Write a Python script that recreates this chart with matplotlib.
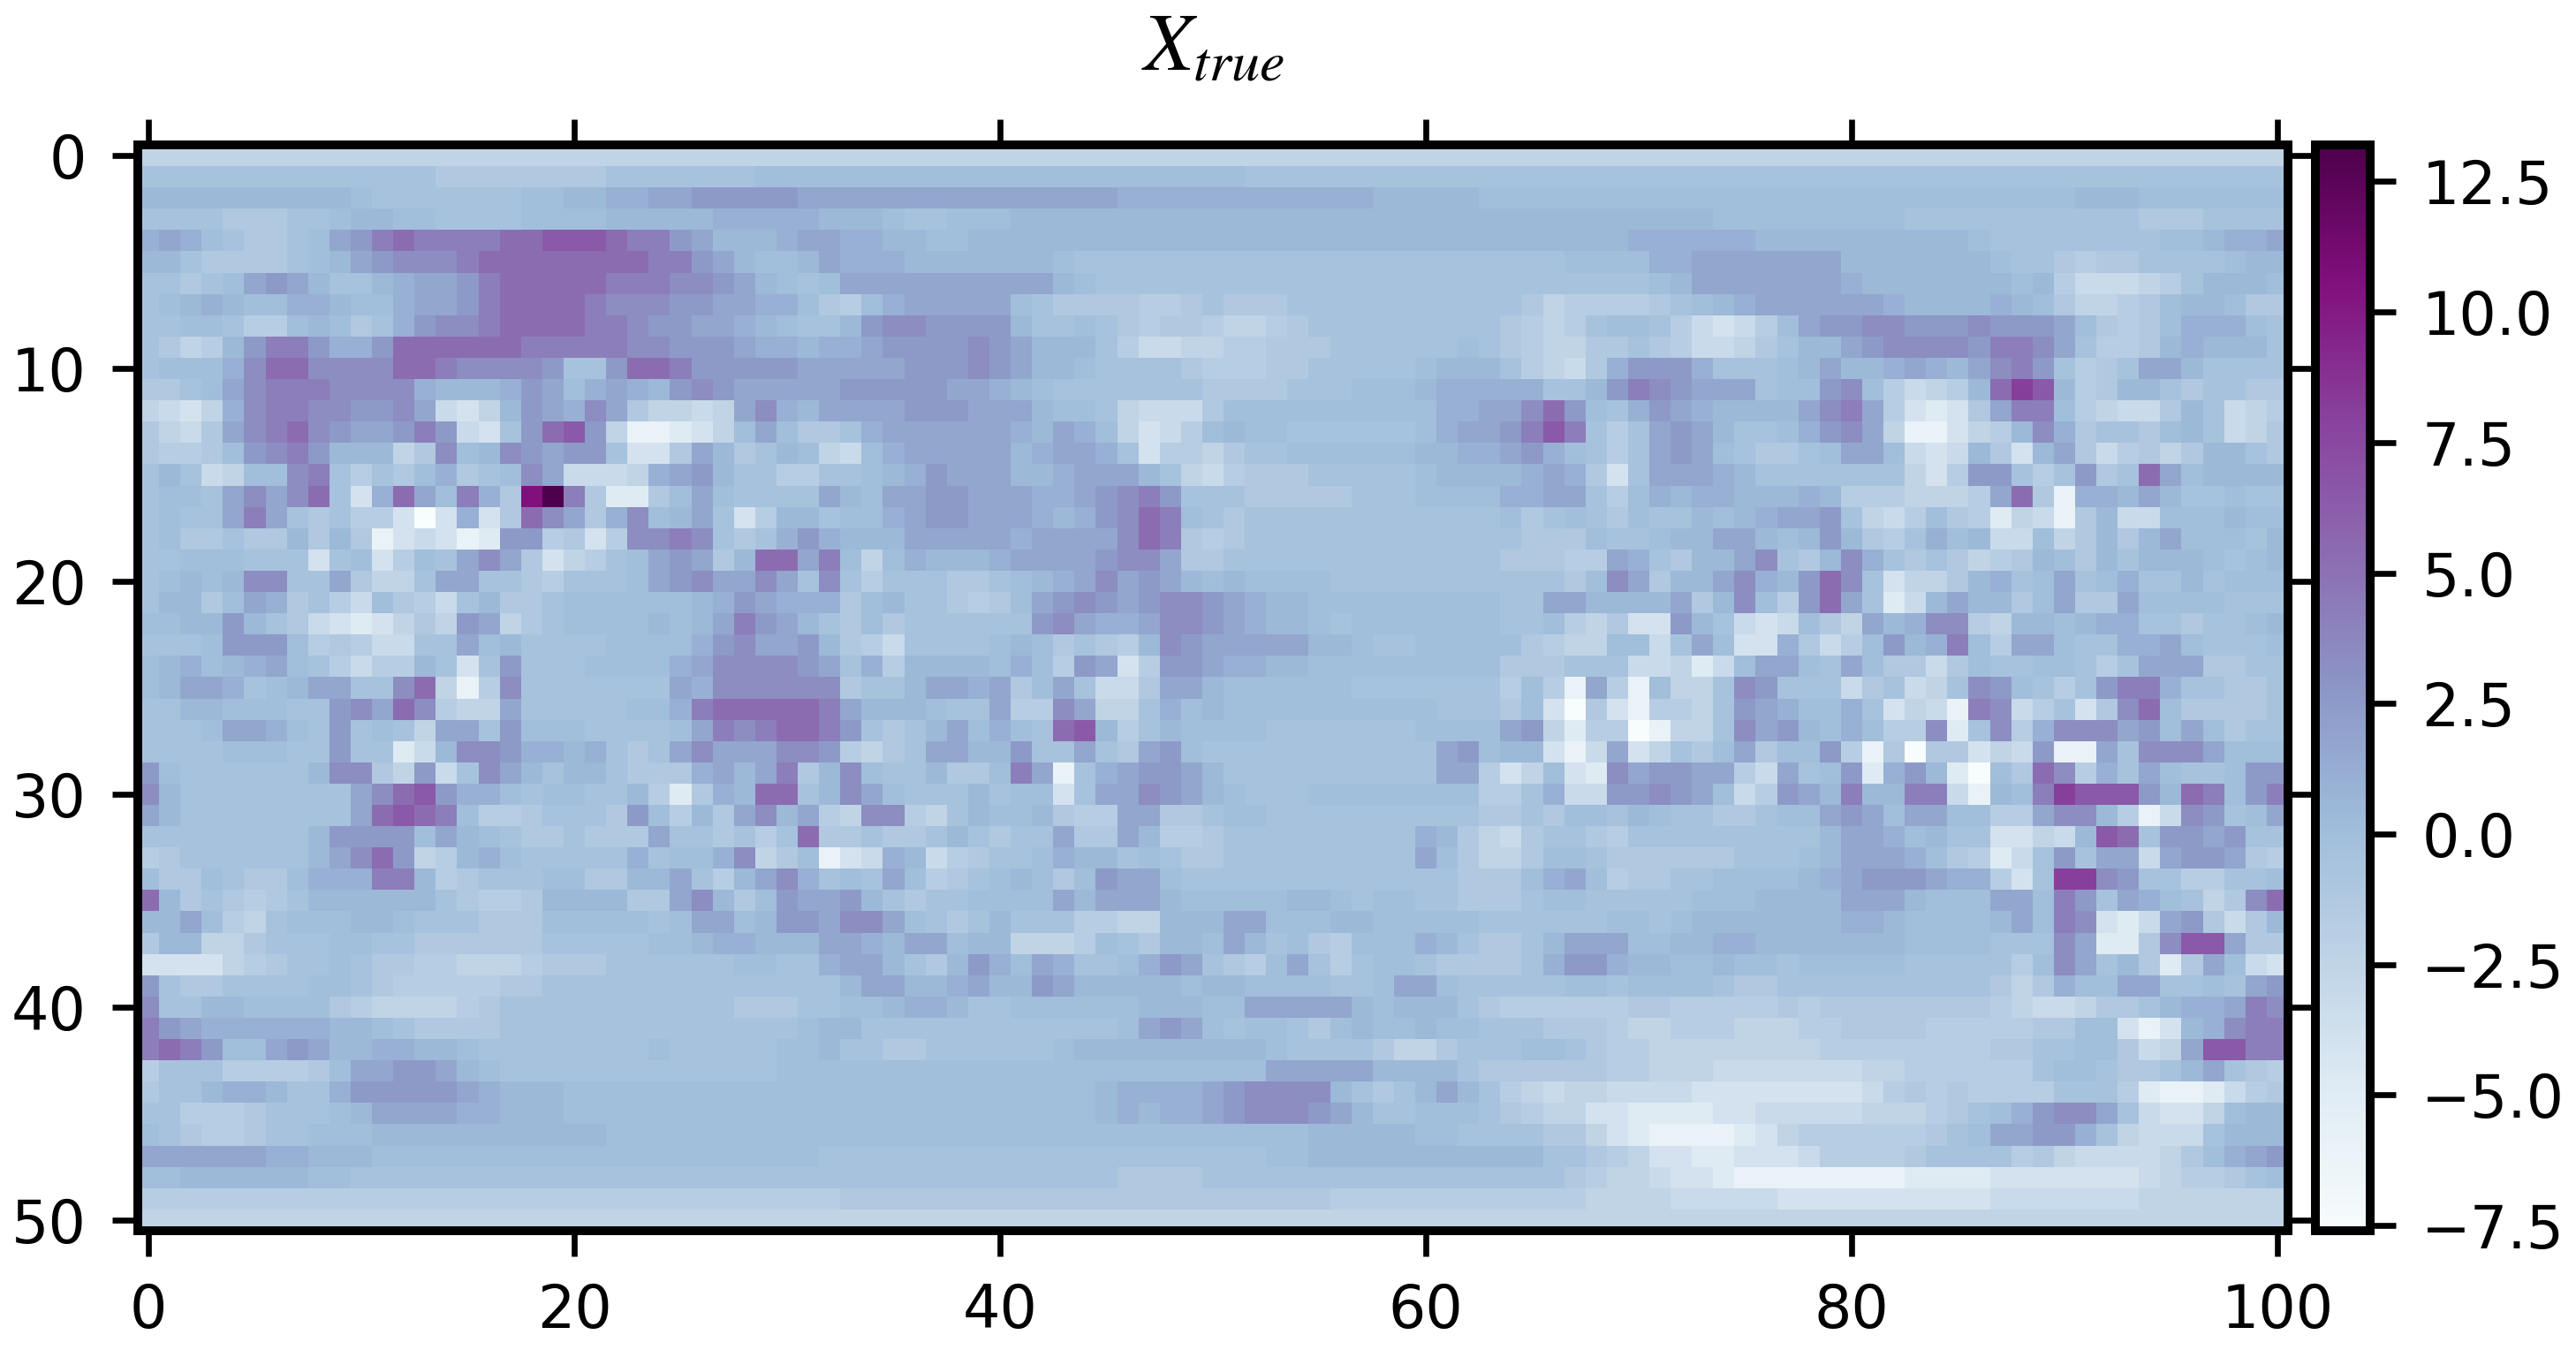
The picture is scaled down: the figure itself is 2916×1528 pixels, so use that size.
import numpy as np
import matplotlib
matplotlib.use("Agg")
import matplotlib.pyplot as plt

# colour level codes -> data value
level_codes = "0123456789abcdefghijk"
level_values = [-7.6, -6.0, -5.0, -4.0, -3.2, -2.5, -1.8, -1.2, -0.6, -0.1, 0.4,
                1.0, 1.7, 2.5, 3.3, 4.2, 5.3, 6.5, 8.0, 10.5, 13.2]

cell_rows = [
"5555555555 5555555555 5555555555 5555555555 5555555555 5555555555 5555555555 5555555555 5555555555 5555555555 5",
"8888888888 8888777777 7788888889 9999999999 9999999999 9988888888 8888888888 8888888888 8888888888 8888888888 8",
"aaaaaaaaaa 9888888899 aabbccdddd dccccccccc ccccccbbbb bbbbbbbbaa aaa9999999 9999999999 9999999999 9aaa999999 9",
"8888777889 aa99888899 99aaaaabbb bbaaa98899 9aaaaaaaaa aaaaaaaaaa aaaaaaaaaa aaaa999999 9998888888 8888777888 8",
"bcb987789c dfgffffggh hhgffdcaaa bccbbaa99a aaaaaaaaaa aaaaaaaaaa aaaaaaaaaa bbbbbbaaaa aaaaaa9888 8888899abb c",
"aa8777789a cdeeefgggg ggggffdca9 9acbbbaaaa aaa9888888 8888888888 8888888999 9bbccccccc aaaaaaa988 767788889a a",
"88789cdca8 8abccdfggg ggfffeedca 989ccccccc ccca988888 8888888888 8888888888 89accccccc baaaaaaa9a 6444568aaa 9",
"89aba99bba 99bccdfggg gfeeeddccb b9769bcccc c987777667 8777888888 8888875666 6789abcccc ccbaaaaba9 755679aa97 7",
"88998669a9 78bdeefggg gffeddccba 988adeeddd da88987677 6556788888 8888765689 98643469cd deedddeddd c97679bbb9 8",
"8756adffdb bdggggggff fffeedddcb babbcdddde dcaaa86445 5667778888 8898765577 87644578aa cdeeeedffe c8667abaaa 8",
"8999beggee eeggfeeeed 88dggfdddd dcccccddde dcaa988887 6667788888 9aaa86547b dddb8889ac aabcbacefd 8678cca888 8",
"7789cefffe eeebaaabdc 9bcbadedcc cccdddddcc ba98888888 7777888999 abbbbb88ad fedccc899d e96456agih a67aa87887 7",
"5435beffee ddec435adc bec75545ce baccccdddc cca9985444 7999999999 9bbccegd98 bdcbaaaace fc63237cff 965447a845 6",
"7547cefged ccdfd438dg hd5112359c 9778bccccc cbacb95346 9a99888888 9bccdfhf86 8cdca889bd ec511356ae b78879a845 7",
"76679defda aa57e9aedc dd8337ca78 a9549bcccc cabccb8366 5788999999 aabbcdb986 8cdc987789 cc9434a73a c746757aa8 7",
"8a84599ef8 6879b789ec 4445bcda88 66889abdcc caabccca85 4677788888 9aaaabcb73 8cccba8888 888536dd86 8d78gc9aaa a",
"8998ceceg8 3bgc9fb7jk f72279c988 88ca9ccddc ccbbcdefd8 8877777888 9999bbcc86 9babbaaaba 6665556cg7 1bbaca8898 8",
"8988cfc878 66303b37ge c7be9ac836 aa899bcddc ccbabdegf9 8788888888 8888978987 988a9abccd 8546976254 17a44999a9 9",
"8977877a7a 7134312dd6 736eefe878 bdbaaacccc cbccccegf7 6788888888 8888877798 89aacca9ad a768b9a449 57a7ac9998 a",
"8899988838 93698cec73 5689cdc7ag gcf959baaa bccccdeec7 7888888888 888877766c b87aace87a eb8787567a 97a8aaa989 a",
"89a9aee88c 7558cc8876 8889cdecce c8e8688877 89abcecdca 9a99998888 888888879e c7aacebadg e83557ab89 c89b88a899 9",
"8aa79cb786 497648a778 999999abdc bbb79a8876 79cdedcdee dcbaa99999 999988ccaa aac7ae96dg c824acaa79 c77c999988 8",
"99aada8743 23575dc578 9999a9acfd ca87978888 88decbbcee dcbaa98999 9999889657 33da843497 5cabee65aa 9abb887889 a",
"8889ddd967 64488c9a88 889999bdec cda7648888 9a97876aed cccccaa988 9999976559 948c933b74 69dabf96cc 988bbc9888 9",
"9ab9abc986 466a838d88 89999bceee edc8b6aaaa 9b96dc36dd cbbaa99999 9999777888 445249cc98 c977479889 9868ccc778 8",
"9accb89acc 88eg516e88 88888cbeee eee788accb c79c8447cc a999999888 88886961c6 19558ed888 478458ed98 68dffb8877 8",
"88aa99988d ecge655c88 88899bfggg ggfcaaa988 c66ec558b9 a999999999 9888793073 16658dcb99 b83541fe46 837eg97777 8",
"8889ccb98d 8985cc8d99 988889cfef ggfd878ac9 b98gha68a9 9998888888 9999cd5266 01558ecda9 b966e28e6b eeecd9c978 8",
"888899988d 8824aeedbb ab878ceccc eed6578cca ad88c87cd9 8888888888 8cd9aa314c 35879c799d 617077354d 11c8eeec99 9",
"d9888888ae e75d48eca8 aa8777bcac f7ae988a77 9fc18bcddc a888888888 8cc635932e cddcc64c89 d2bda2097g e6b8c9889d d",
"ea88888888 ceghdbb989 988a627bag g8aec9888a 89938ccedc a988899999 999668b44d dedc946dca faaff41a9f ihhhdagf9d f",
"ca88888888 cghgf96678 887d96a7ce ac65ee658a 99a766cc77 8998888888 8887787998 a98877899c dc9cc9966c eea614ed89 c",
"88888888ad ddd9ca9877 8777c88786 8g778778a8 788c77ca66 7888888888 ba75478876 888888888a ccb9a88335 4ahg8ddcd8 8",
"67888888ac egd56ab988 888b899be5 79134ba467 889baa8987 7888888888 c975579987 777778889a cccb976248 d8cc4cddc7 6",
"97798779bb bffa678889 977aac86ac eb898c9678 9a979dcc98 8888888888 887779bc96 77889999ab cdddcbb638 iied886688 9",
"ga787678aa aaaa87667a aaa77cea79 dccda87889 999caccca9 9999aa9899 8877789988 888999aaaa ccca999cc9 fd8cb9857e g",
"aac9658999 aa98887779 999989cc9a ddceec9878 a8886655aa acc999aa99 9998888889 989aaaaaaa bba9999ac9 fe324cd747 a",
"7aa5578889 9887777778 888899abba aaccbacc9a a5556987aa 9ca8976999 ba8778accc 99aabbaaaa aaa9999888 ec227ehhc7 7",
"3333567889 8776655567 7788888899 88bcca87ad b9cb889bdc 8769c86899 877778bddb aa99a99899 9998888869 ec8a727c94 3",
"d877888899 8766666778 8888888888 888accaabc aadcaaaaa9 aa9999889c c988888998 9999877888 8888888757 b99cc8898c d",
"e88aa99997 6555567888 8888888877 78899abba8 8999999aaa 99ccccca9a aa87666666 7766666767 7777777654 45778abbcf e",
"fdcbbbbbba a987777888 8888888888 89aa888888 8888889cdc 9899879a99 a998887776 5566655566 7777666667 799313abef f",
"fgfd99cdca abbaa98888 8888988888 99a8877888 8889aaaaaa aaa9888875 5788899876 6555555556 6666666778 899745chhf f",
"6888666679 ccddca9888 8888888888 9999999999 9999999999 999cccccaa aa87777776 6555444444 4556666668 998778ac87 6",
"788abba88b dddddcbaaa 9999999999 9999999999 99999abbbb cdeeeea878 aca8654554 4443333333 3467676666 8886211246 7",
"8866678889 accccbbaaa 9999999999 9999999999 99999ababb cdeeedca88 9998765533 2222334444 45556789bd eec843359a a",
"9876678899 9aaaaaaaaa aa99999999 9999999999 9999999999 99999aaaaa 9988887753 2111123566 6666789ccd db854448aa a",
"ccccccbbaa a999999999 9999999999 9988888888 8888888888 88899aaaaa aaaaaa8876 5332233346 6667888867 54444579bc d",
"99aaaaaa99 8888888888 8888888888 8888888888 8888887777 8888888888 8888888765 5433211111 1112222333 3333456678 9",
"6666666666 6666666666 6666666666 6667777777 7777777777 7777776666 6666666655 5544444333 3333333444 4444555555 5",
"5555555555 5555555555 5555555555 5555555555 5555555555 5555555555 5555555555 5555555555 5555555555 5555555555 5",
]

x_ticks = [0, 20, 40, 60, 80, 100]
y_ticks = [0, 10, 20, 30, 40, 50]
cbar_ticks = [-7.5, -5.0, -2.5, 0.0, 2.5, 5.0, 7.5, 10.0, 12.5]
title_text = r"$X_{true}$"

lookup = dict(zip(level_codes, level_values))
compact = [r.replace(" ", "") for r in cell_rows]
bad = [(i, len(r)) for i, r in enumerate(compact) if len(r) != 101]
if bad or len(compact) != 51:
    raise SystemExit(f"bad row lengths {bad}, rows {len(compact)}")
X = np.array([[lookup[c] for c in r] for r in compact])

W, H, DPI = 2916, 1528, 600
plt.rcParams["font.family"] = "DejaVu Sans"
plt.rcParams["mathtext.fontset"] = "stix"
plt.rcParams["font.size"] = 8
plt.rcParams["xtick.major.width"] = 0.8
plt.rcParams["ytick.major.width"] = 0.8
plt.rcParams["axes.linewidth"] = 1.2

fig = plt.figure(figsize=(W / DPI, H / DPI), dpi=DPI)


def box(left, top, right, bottom):
    return [left / W, 1 - bottom / H, (right - left) / W, (bottom - top) / H]


ax = fig.add_axes(box(156, 164, 2590, 1393))
cax = fig.add_axes(box(2621, 164, 2683, 1393))

im = ax.imshow(X, cmap="BuPu", aspect="auto", interpolation="nearest")
ax.set_xticks(x_ticks)
ax.set_yticks(y_ticks)
ax.tick_params(top=True, right=True, labeltop=False, labelright=False)
ax.set_title(title_text, fontsize=11, pad=10.2)

cb = fig.colorbar(im, cax=cax)
cb.set_ticks(cbar_ticks)
cb.ax.set_yticklabels([f"{t:.1f}".replace("-", "\u2212") for t in cbar_ticks])
cb.outline.set_linewidth(1.2)

fig.savefig("out.png", dpi=DPI)
